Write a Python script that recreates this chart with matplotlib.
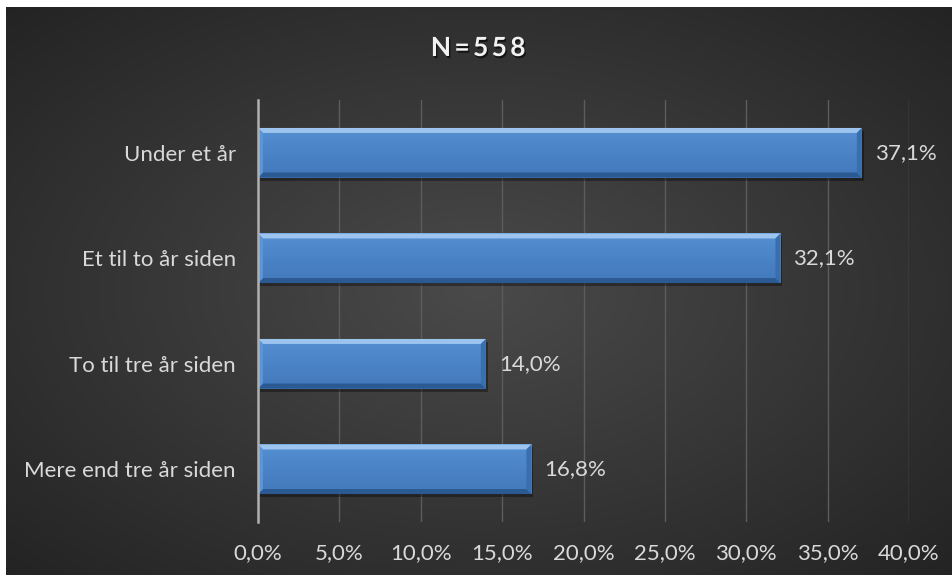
import matplotlib
matplotlib.use("Agg")
import matplotlib.pyplot as plt
import matplotlib.patheffects as pe
from matplotlib.patches import Rectangle, Polygon
import numpy as np

plt.rcParams["font.family"] = ["Lato", "DejaVu Sans"]

categories = ["Under et år", "Et til to år siden", "To til tre år siden", "Mere end tre år siden"]
values = [37.1, 32.1, 14.0, 16.8]
x_ticks = [0, 5, 10, 15, 20, 25, 30, 35, 40]
title = "N=558"

TEXT = "#d9d9d9"
FACE = "#4a83c6"
TOP = "#9cc4ee"
BOTTOM = "#2b5a92"
SIDE = "#3a6fae"
FS = 16

W, H = 952, 575
fig = plt.figure(figsize=(W / 100, H / 100), dpi=100)
fig.patch.set_facecolor("white")

# radial gradient backdrop
bg = fig.add_axes([6 / W, 0, 1 - 6 / W, 1 - 7 / H])
bg.set_axis_off()
yy, xx = np.mgrid[0:1:300j, 0:1:500j]
r = np.sqrt(((xx - 0.5) / 0.75) ** 2 + ((yy - 0.5) / 0.75) ** 2)
shade = np.clip(0.29 - 0.16 * r, 0.14, 0.29)
bg.imshow(np.dstack([shade] * 3), extent=[0, 1, 0, 1], aspect="auto", origin="lower")
bg.set_xlim(0, 1)
bg.set_ylim(0, 1)

ax = fig.add_axes([258 / W, 1 - 522 / H, (909 - 258) / W, (522 - 100) / H])
ax.set_facecolor("none")
ypos = np.arange(len(categories))
bar_h = 0.47
bars = ax.barh(ypos, values, height=bar_h, color=FACE, zorder=3, linewidth=0)
ax.set_xlim(0, 40)
ax.set_ylim(len(categories) - 0.5, -0.5)

# per-pixel sizes in data units
px_x = 40 / (909 - 258)
px_y = len(categories) / (522 - 100)
bev_x = 5 * px_x
bev_y = 5 * px_y
face_cmap = matplotlib.colors.LinearSegmentedColormap.from_list(
    "face", ["#5590d2", "#4a83c6", "#4279bb"])

for b in bars:
    x0, y0 = b.get_x(), b.get_y()
    w, h = b.get_width(), b.get_height()
    x1, y1 = x0 + w, y0 + h  # y1 is bottom on inverted axis
    # drop shadow
    ax.add_patch(Rectangle((x0 + 2 * px_x, y0 + 3 * px_y), w, h, color="black",
                           alpha=0.35, zorder=2, linewidth=0))
    # vertical gradient over the face
    grad = np.linspace(0, 1, 50).reshape(-1, 1)
    ax.imshow(grad, extent=[x0, x1, y1, y0], cmap=face_cmap, aspect="auto",
              zorder=3.2, origin="upper")
    # bevel edges
    ax.add_patch(Polygon([(x0, y0), (x1, y0), (x1 - bev_x, y0 + bev_y), (x0 + bev_x, y0 + bev_y)],
                         closed=True, color=TOP, zorder=4, linewidth=0))
    ax.add_patch(Polygon([(x0, y1), (x1, y1), (x1 - bev_x, y1 - bev_y), (x0 + bev_x, y1 - bev_y)],
                         closed=True, color=BOTTOM, zorder=4, linewidth=0))
    ax.add_patch(Polygon([(x0, y0), (x0 + bev_x, y0 + bev_y), (x0 + bev_x, y1 - bev_y), (x0, y1)],
                         closed=True, color="#5b95d6", zorder=4, linewidth=0))
    ax.add_patch(Polygon([(x1, y0), (x1 - bev_x, y0 + bev_y), (x1 - bev_x, y1 - bev_y), (x1, y1)],
                         closed=True, color=SIDE, zorder=4, linewidth=0))
    ax.text(x1 + 13 * px_x, y0 + h / 2, f"{w:.1f}%".replace(".", ","), color=TEXT,
            fontsize=FS, va="center", ha="left", zorder=5)

ax.set_xticks(x_ticks)
ax.set_xticklabels([f"{t:.1f}%".replace(".", ",") for t in x_ticks])
ax.set_yticks(ypos)
ax.set_yticklabels(categories)
ax.tick_params(axis="both", length=0, colors=TEXT, labelsize=FS)
ax.tick_params(axis="x", pad=15)
ax.tick_params(axis="y", pad=16)
ax.grid(axis="x", color="#5c5c5c", linewidth=1.0, zorder=1)
ax.set_axisbelow(True)
for s in ["top", "right", "bottom"]:
    ax.spines[s].set_visible(False)
ax.spines["left"].set_color("#b0b0b0")
ax.spines["left"].set_linewidth(1.8)
ax.spines["left"].set_zorder(6)

fig.text(0.502, 1 - 48 / H, "\u2009".join(title), color="#f2f2f2", fontsize=19,
         fontweight="bold", ha="center", va="center",
         path_effects=[pe.withSimplePatchShadow(offset=(1, -1.5), shadow_rgbFace="black", alpha=0.6)])

fig.savefig("out.png", dpi=100)
